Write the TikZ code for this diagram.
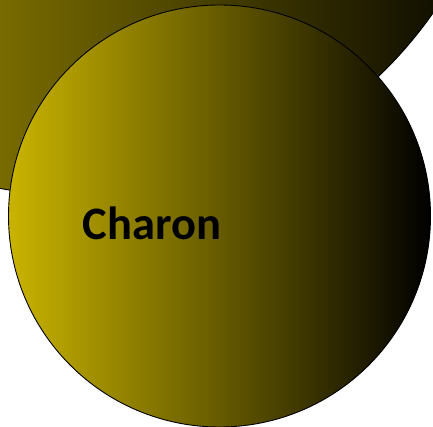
\documentclass[tikz,border=0pt]{standalone}
\usepackage{fontspec}
\setmainfont{Carlito}
\definecolor{goldL}{RGB}{202,180,0}
\definecolor{darkR}{RGB}{0,0,0}
\begin{document}
\begin{tikzpicture}[x=1pt,y=-1pt,
  orb/.style={draw=black,line width=0.9pt,left color=goldL,right color=darkR}]
\useasboundingbox (0,0) rectangle (433,427);
\clip (0,0) rectangle (433,427);
\fill[white] (0,0) rectangle (433,427);
\path[orb] (81,-234) circle[radius=430];
\path[orb] (219.5,216) circle[radius=211];
\node[anchor=base,font=\bfseries\fontsize{46.5}{50}\selectfont,inner sep=0pt] (charon) at (152,240) {Charon};
\end{tikzpicture}
\end{document}
